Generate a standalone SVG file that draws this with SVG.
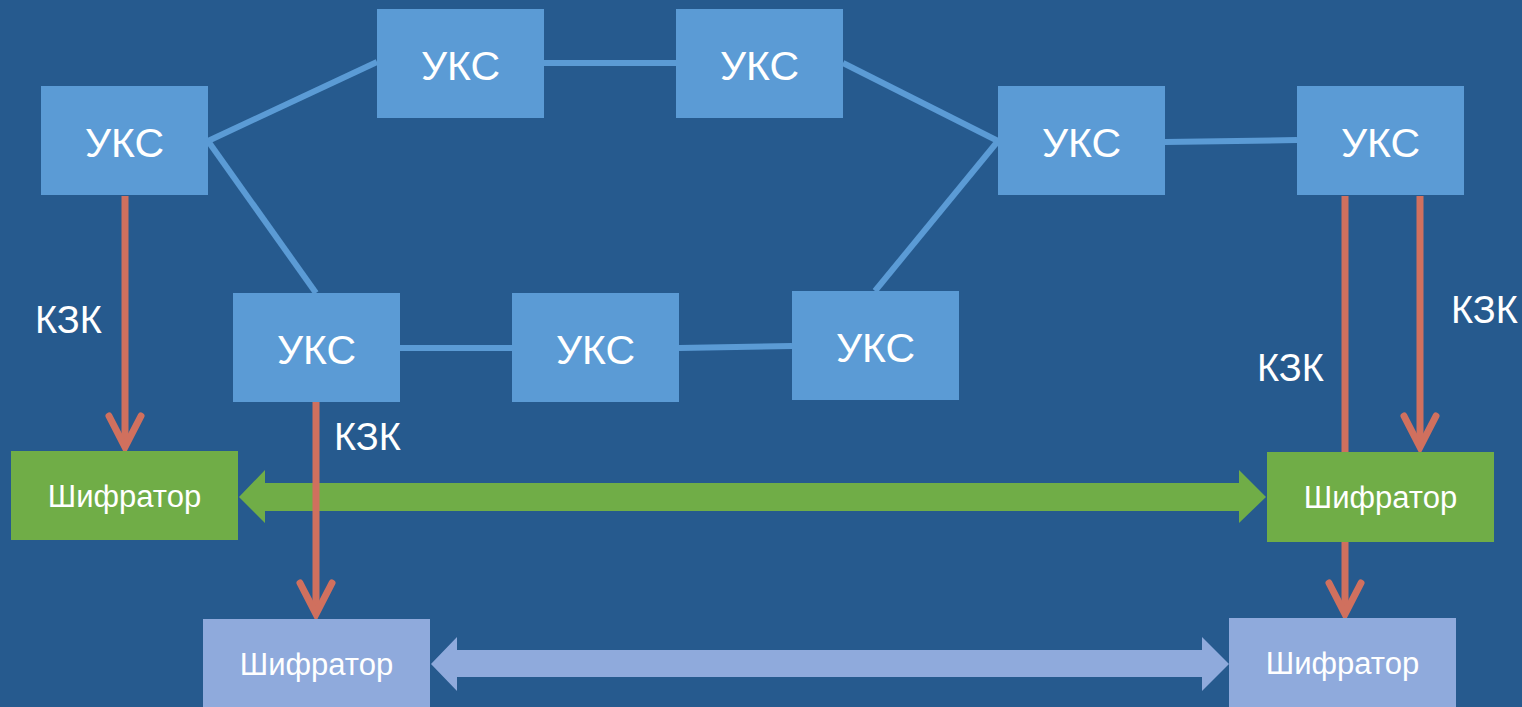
<svg xmlns="http://www.w3.org/2000/svg" width="1522" height="707" viewBox="0 0 1522 707">
<style>
.bg{fill:#265A8E}
.uks{fill:#5B9BD5}
.enc{fill:#70AD47}
.enc2{fill:#8FAADC}
.ut{font-family:"Liberation Sans",Arial,sans-serif;font-size:41px;fill:#fff;text-anchor:middle}
.st{font-family:"Liberation Sans",Arial,sans-serif;font-size:31px;fill:#fff;text-anchor:middle}
.lab{font-family:"Liberation Sans",Arial,sans-serif;font-size:38px;fill:#fff}
.link{stroke:#5B9BD5;stroke-width:6;fill:none}
.kzk{stroke:#D0705E;stroke-width:7;fill:none}
</style>
<defs>
<marker id="chev" markerUnits="userSpaceOnUse" orient="auto" refX="0" refY="0" markerWidth="60" markerHeight="60" viewBox="-40 -30 50 60" overflow="visible">
<path d="M-31,-16 L0,0 L-31,16" fill="none" stroke="#D0705E" stroke-width="7" stroke-linecap="round" stroke-linejoin="miter"/>
</marker>
</defs>
<rect class="bg" x="0" y="0" width="1522" height="707"/>
<g id="connectors">
<line class="link" x1="208" y1="141" x2="377" y2="62"/>
<line class="link" x1="208" y1="141" x2="316" y2="293"/>
<line class="link" x1="544" y1="63" x2="676" y2="63"/>
<line class="link" x1="843" y1="63" x2="998" y2="141"/>
<line class="link" x1="998" y1="141" x2="875" y2="291"/>
<line class="link" x1="1165" y1="142" x2="1297" y2="140"/>
<line class="link" x1="400" y1="348" x2="512" y2="348"/>
<line class="link" x1="679" y1="348" x2="792" y2="346"/>
<line class="kzk" x1="125" y1="196" x2="125" y2="447" marker-end="url(#chev)"/>
<line class="kzk" x1="1345" y1="196" x2="1345" y2="614" marker-end="url(#chev)"/>
<line class="kzk" x1="1420" y1="196" x2="1420" y2="447" marker-end="url(#chev)"/>
<polygon id="green-link" class="enc" points="239,497 265,470 265,483 1239,483 1239,470 1266,497 1239,523 1239,511 265,511 265,523"/>
<polygon id="blue-link" class="enc2" points="431,664 457,637 457,650 1202,650 1202,637 1229,664 1202,691 1202,677 457,677 457,691"/>
<line class="kzk" x1="316" y1="402" x2="316" y2="614" marker-end="url(#chev)"/>
</g>
<g id="uks1"><rect class="uks" x="41" y="86" width="167" height="109"/><text class="ut" x="124.5" y="157">УКС</text></g>
<g id="uks2"><rect class="uks" x="377" y="9" width="167" height="109"/><text class="ut" x="460.5" y="80">УКС</text></g>
<g id="uks3"><rect class="uks" x="676" y="9" width="167" height="109"/><text class="ut" x="759.5" y="80">УКС</text></g>
<g id="uks4"><rect class="uks" x="998" y="86" width="167" height="109"/><text class="ut" x="1081.5" y="157">УКС</text></g>
<g id="uks5"><rect class="uks" x="1297" y="86" width="167" height="109"/><text class="ut" x="1380.5" y="157">УКС</text></g>
<g id="uks6"><rect class="uks" x="233" y="293" width="167" height="109"/><text class="ut" x="316.5" y="364">УКС</text></g>
<g id="uks7"><rect class="uks" x="512" y="293" width="167" height="109"/><text class="ut" x="595.5" y="364">УКС</text></g>
<g id="uks8"><rect class="uks" x="792" y="291" width="167" height="109"/><text class="ut" x="875.5" y="362">УКС</text></g>
<g id="enc-left"><rect class="enc" x="11" y="451" width="227" height="89"/><text class="st" x="124.5" y="507">Шифратор</text></g>
<g id="enc-right"><rect class="enc" x="1267" y="452" width="227" height="90"/><text class="st" x="1380.5" y="508">Шифратор</text></g>
<g id="enc2-left"><rect class="enc2" x="203" y="619" width="227" height="90"/><text class="st" x="316.5" y="675">Шифратор</text></g>
<g id="enc2-right"><rect class="enc2" x="1229" y="618" width="227" height="91"/><text class="st" x="1342.5" y="674">Шифратор</text></g>
<g id="labels">
<text class="lab" x="35" y="333">КЗК</text>
<text class="lab" x="334" y="450">КЗК</text>
<text class="lab" x="1257" y="381">КЗК</text>
<text class="lab" x="1451" y="323">КЗК</text>
</g>
</svg>
